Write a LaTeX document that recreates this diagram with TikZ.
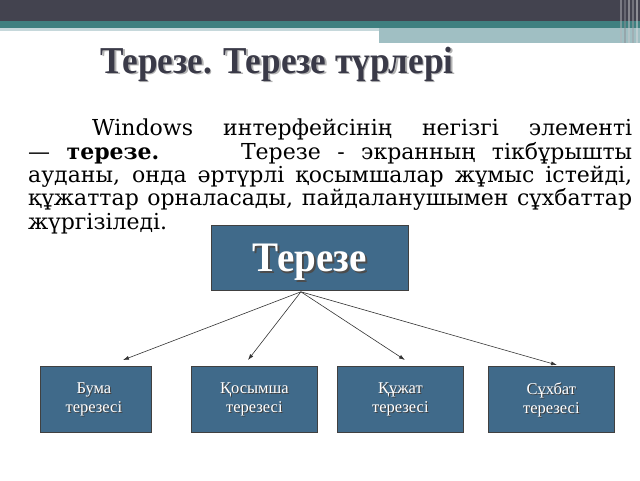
\documentclass[tikz,border=0pt]{standalone}
\usepackage{fontspec}
\setmainfont{Liberation Serif}
\newfontfamily\bodyfont{DejaVu Serif}
\usetikzlibrary{calc,arrows.meta}
\definecolor{topbar}{HTML}{43434F}
\definecolor{tealbar}{HTML}{3F8080}
\definecolor{lightteal}{HTML}{A0BFC3}
\definecolor{boxfill}{HTML}{406A8A}
\definecolor{boxline}{HTML}{404040}
\definecolor{titlecol}{HTML}{3A3A48}
\tikzset{
  box/.style={draw=boxline, line width=0.8pt, fill=boxfill, inner sep=0pt},
  arr/.style={-{Latex[length=6pt,width=4pt]}, line width=0.6pt, draw=black!80},
  shadowtext/.style={text=black!70, inner sep=0pt},
  boxtext/.style={text=white, inner sep=0pt, align=center, font=\fontsize{16.5}{19}\selectfont}
}
\begin{document}
\begin{tikzpicture}[x=1pt,y=-1pt]
\useasboundingbox (0,0) rectangle (640,480);
% header bars
\fill[topbar] (0,0) rectangle (640,21);
\fill[tealbar] (0,21) rectangle (640,28);
\fill[lightteal!60] (0,28) rectangle (640,31);
\fill[lightteal] (379,28) rectangle (640,43);
\foreach \xx/\cc in {620/white!60!topbar,624/white!40!topbar,628/white!70!topbar,632/white!50!topbar,636/white!80!topbar}
  \fill[\cc, opacity=0.5] (\xx,0) rectangle ++(2,43);
% title
\node[inner sep=0pt, anchor=base, text=black!30] (titleshadow) at (278.5,74.5)
  {\fontsize{38}{42}\selectfont\bfseries\scalebox{0.925}[1]{Терезе. Терезе түрлері}};
\node[inner sep=0pt, anchor=base, text=titlecol] (title) at (277,73)
  {\fontsize{38}{42}\selectfont\bfseries\scalebox{0.925}[1]{Терезе. Терезе түрлері}};
% body text
\node[inner sep=0pt, anchor=north west, text width=604pt, align=justify] (body) at (28,119)
  {\bodyfont\fontsize{22}{23.3}\selectfont\parindent=64pt\indent Windows интерфейсінің негізгі элементі\linebreak
  — \textbf{терезе.}\hspace{2em} Терезе - экранның тікбұрышты\linebreak ауданы, онда әртүрлі қосымшалар жұмыс істейді,\linebreak құжаттар орналасады, пайдаланушымен сұхбаттар\linebreak жүргізіледі.\par};
% top box
\node[box, minimum width=197pt, minimum height=65pt, anchor=north west] (top) at (211,225) {};
\node[shadowtext, anchor=base] (topshadow) at ($(top.center)+(1.5,15.5)$)
  {\fontsize{42}{46}\selectfont\bfseries\scalebox{0.93}[1]{Терезе}};
\node[inner sep=0pt, text=white, anchor=base] (toptext) at ($(top.center)+(0,14)$)
  {\fontsize{42}{46}\selectfont\bfseries\scalebox{0.93}[1]{Терезе}};
% bottom boxes
\node[box, minimum width=111pt, minimum height=66pt, anchor=north west] (b1) at (40,366) {};
\node[box, minimum width=126pt, minimum height=66pt, anchor=north west] (b2) at (191,366) {};
\node[box, minimum width=126pt, minimum height=66pt, anchor=north west] (b3) at (337,366) {};
\node[box, minimum width=126pt, minimum height=66pt, anchor=north west] (b4) at (488,366) {};
\foreach \b/\t/\dx in {b1/Бума/-2, b2/Қосымша/0, b3/Құжат/0, b4/Сұхбат/0}{
  \node[boxtext, text=black!75] at ($(\b.center)+(\dx+1,1)$) {\t\\терезесі};
  \node[boxtext] (\b text) at ($(\b.center)+(\dx,0)$) {\t\\терезесі};
}
% arrows
\coordinate (src) at ($(top.south)+(-9,1)$);
\draw[arr] (src) -- ($(b1.north west)+(83,-6)$);
\draw[arr] (src) -- ($(b2.north west)+(57,-6)$);
\draw[arr] (src) -- ($(b3.north west)+(68,-6)$);
\draw[arr] (src) -- ($(b4.north west)+(69,-1)$);
\end{tikzpicture}
\end{document}
